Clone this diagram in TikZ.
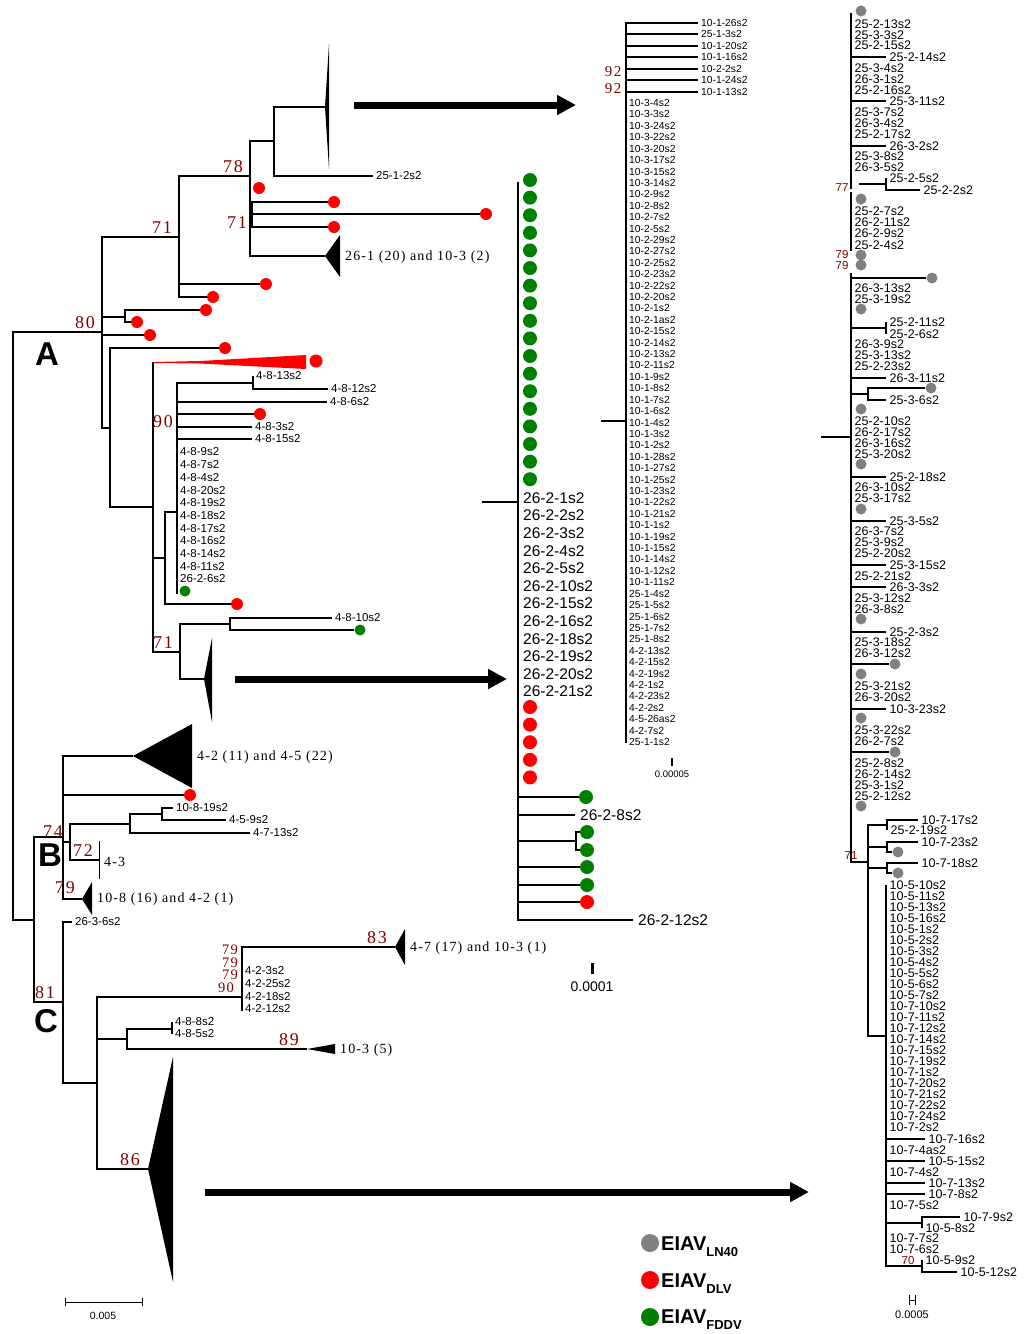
\documentclass[tikz,border=0pt]{standalone}
\usepackage{fontspec}
\setmainfont{Liberation Sans}
\newfontfamily\bsfont[LetterSpace=10]{Liberation Serif}
\newfontfamily\cladefont[LetterSpace=8]{Liberation Serif}
\usetikzlibrary{arrows.meta}

\definecolor{dotred}{RGB}{255,0,0}
\definecolor{dotgreen}{RGB}{0,128,0}
\definecolor{dotgray}{RGB}{128,128,128}
\definecolor{bsred}{RGB}{128,0,0}

\begin{document}
\begin{tikzpicture}[x=1pt, y=-1pt,
    br/.style={line width=1.2pt},
    lbl/.style={anchor=west, inner xsep=3pt, inner ysep=0pt, font=\fontsize{11.5}{11.5}\selectfont},
    slbl/.style={anchor=west, inner xsep=3pt, inner ysep=0pt, font=\fontsize{10.3}{10.3}\selectfont},
    blbl/.style={anchor=west, inner xsep=5pt, inner ysep=0pt, font=\fontsize{15.5}{15.5}\selectfont},
    rlbl/.style={anchor=west, inner xsep=3.5pt, inner ysep=0pt, font=\fontsize{12.5}{12.5}\selectfont},
    clade/.style={anchor=west, inner xsep=5pt, inner ysep=0pt, font=\cladefont\fontsize{14}{14}\selectfont},
    bs/.style={inner sep=0pt, text=bsred, font=\bsfont\fontsize{18}{18}\selectfont},
    sbs/.style={bs, font=\bsfont\fontsize{14.5}{14.5}\selectfont},
    rbs/.style={inner sep=0pt, text=bsred, font=\fontsize{11.5}{11.5}\selectfont},
    grp/.style={inner sep=0pt, font=\bfseries\fontsize{33}{33}\selectfont},
    rdot/.style={circle, fill=dotred, inner sep=0pt, minimum size=12pt},
    gdot/.style={circle, fill=dotgreen, inner sep=0pt, minimum size=12pt},
    gydot/.style={circle, fill=dotgray, inner sep=0pt, minimum size=11pt},
    bigarr/.style={line width=7pt, -{Triangle[length=19pt,width=19pt]}},
    leg/.style={anchor=base west, inner sep=0pt, font=\bfseries\fontsize{20}{20}\selectfont}
]
\useasboundingbox (0,0) rectangle (1024,1334);

% ---- left tree, cluster A
\coordinate (root) at (13,626);
\coordinate (nA) at (102,332);
\coordinate (nBC) at (34,920);
\draw[br] (root) |- (nA);
\draw[br] (root) |- (nBC);

\coordinate (n71) at (179,237);
\coordinate (nS) at (125,317);
\coordinate (nX) at (110,428);
\node[rdot] (dA) at (150,335) {};
\draw[br] (nA) |- (n71);
\draw[br] (nA) |- (nS);
\draw[br] (nA) |- (dA.west);
\draw[br] (nA) |- (nX);

\node[rdot] (dS1) at (206,310) {};
\node[rdot] (dS2) at (137,322) {};
\draw[br] (nS) |- (dS1.west);
\draw[br] (nS) |- (dS2.west);

\coordinate (n78) at (250,176);
\node[rdot] (d71a) at (266,284) {};
\node[rdot] (d71b) at (213,297) {};
\draw[br] (n71) |- (n78);
\draw[br] (n71) |- (d71a.west);
\draw[br] (n71) |- (d71b.west);

\coordinate (nT) at (274,141);
\coordinate (t26) at (325,256);
\node[rdot] (d78) at (259,188) {};
\draw[br] (n78) |- (nT);
\draw[br] (n78) |- (t26);
\fill (t26) -- (340,235) -- (340,277) -- cycle;
\node[clade] (c261) at (340,257) {26-1 (20) and 10-3 (2)};

\coordinate (n71b) at (252,214);
\node[rdot] (db1) at (334,202) {};
\node[rdot] (db2) at (486,214) {};
\node[rdot] (db3) at (334,227) {};
\draw[br] (n71b) |- (db1.west);
\draw[br] (n71b) |- (db2.west);
\draw[br] (n71b) |- (db3.west);

\coordinate (tT) at (325,107);
\node[lbl] (l2512) at (373,176) {25-1-2s2};
\draw[br] (nT) |- (tT);
\draw[br] (nT) |- (l2512.west);
\fill (tT) -- (329,44) -- (329,169) -- cycle;

\node[rdot] (dX) at (225,348) {};
\coordinate (nY) at (153,507);
\draw[br] (nX) |- (dX.west);
\draw[br] (nX) |- (nY);

\coordinate (rt) at (153,362);
\draw[br] (nY) -- (rt);
\fill[dotred] (rt) -- (200,361) -- (306,355) -- (306,369) -- (200,363.5) -- (153,363) -- cycle;
\node[rdot, minimum size=13pt] (dR) at (316,361) {};

\coordinate (nZ) at (165,558);
\coordinate (n71c) at (180,652);
\draw[br] (nY) |- (nZ);
\draw[br] (nY) |- (n71c);

\coordinate (n90) at (177,512);
\node[rdot] (dZ) at (237,604) {};
\draw[br] (nZ) |- (n90);
\draw[br] (nZ) |- (dZ.west);

\coordinate (n13) at (253,383);
\draw[br] (n90) |- (n13);
\node[lbl] (l4813) at (253,376) {4-8-13s2};
\node[lbl] (l4812) at (328,389) {4-8-12s2};
\draw[br] (n13) |- (l4813.west);
\draw[br] (n13) |- (l4812.west);
\node[lbl] (l486) at (327,402) {4-8-6s2};
\node[rdot] (d90) at (260,414) {};
\node[lbl] (l483) at (252,427) {4-8-3s2};
\node[lbl] (l4815) at (252,439) {4-8-15s2};
\draw[br] (n90) |- (l486.west);
\draw[br] (n90) |- (d90.west);
\draw[br] (n90) |- (l483.west);
\draw[br] (n90) |- (l4815.west);
\foreach \t [count=\i] in {4-8-9s2, 4-8-7s2, 4-8-4s2, 4-8-20s2, 4-8-19s2, 4-8-18s2,
    4-8-17s2, 4-8-16s2, 4-8-14s2, 4-8-11s2, 26-2-6s2}
  \node[lbl] (l90\i) at (177,{439.3+12.7*\i}) {\t};
\node[gdot, minimum size=11pt] (d90g) at (185,591) {};
\coordinate (n90e) at (177,594);
\draw[br] (n90) -- (n90e);

\coordinate (n10) at (230,624);
\coordinate (tA) at (204,679);
\draw[br] (n71c) |- (n10);
\draw[br] (n71c) |- (tA);
\fill (tA) -- (212,638) -- (212,722) -- cycle;
\node[lbl] (l4810) at (332,618) {4-8-10s2};
\node[gdot, minimum size=11pt] (d10) at (360,630) {};
\draw[br] (n10) |- (l4810.west);
\draw[br] (n10) |- (d10.west);

% ---- clusters B and C
\coordinate (nB) at (63,837);
\coordinate (nC) at (63,1002);
\draw[br] (nBC) |- (nB);
\draw[br] (nBC) |- (nC);

\coordinate (tB1) at (133,756);
\node[rdot] (dB) at (190,795) {};
\coordinate (nB2) at (70,842);
\coordinate (tB3) at (82,899);
\draw[br] (nB) |- (tB1);
\draw[br] (nB) |- (dB.west);
\draw[br] (nB) |- (nB2);
\draw[br] (nB) |- (tB3);
\fill (tB1) -- (192,724) -- (192,788) -- cycle;
\node[clade] (c42) at (192,757) {4-2 (11) and 4-5 (22)};
\fill (tB3) -- (92,882) -- (92,915) -- cycle;
\node[clade] (c108) at (92,899) {10-8 (16) and 4-2 (1)};

\coordinate (nB3) at (130,824);
\coordinate (c43) at (99,860);
\draw[br] (nB2) |- (nB3);
\draw[br] (nB2) |- (c43);
\draw[line width=0.6pt] (99,841) -- (99,879);
\node[clade] (l43) at (99,862) {4-3};

\coordinate (nB4) at (162,814);
\node[lbl] (l4713) at (250,833) {4-7-13s2};
\node[lbl] (l10819) at (173,808) {10-8-19s2};
\node[lbl] (l459) at (226,820) {4-5-9s2};
\draw[br] (nB3) |- (nB4);
\draw[br] (nB3) |- (l4713.west);
\draw[br] (nB4) |- (l10819.west);
\draw[br] (nB4) |- (l459.west);

\node[lbl] (l2636) at (72,922) {26-3-6s2};
\coordinate (nC2) at (97,1083);
\draw[br] (nC) |- (l2636.west);
\draw[br] (nC) |- (nC2);

\coordinate (nC3) at (242,997);
\coordinate (nC4) at (127,1039);
\coordinate (tC) at (148,1169);
\draw[br] (nC2) |- (nC3);
\draw[br] (nC2) |- (nC4);
\draw[br] (nC2) |- (tC);
\fill (tC) -- (173,1057) -- (173,1282) -- cycle;

\coordinate (tC3) at (395,947);
\coordinate (nC3e) at (242,1011);
\draw[br] (nC3) |- (tC3);
\draw[br] (nC3) -- (nC3e);
\fill (tC3) -- (405,929) -- (405,965) -- cycle;
\node[clade] (c47) at (405,948) {4-7 (17) and 10-3 (1)};
\foreach \y/\t [count=\i] in {971/4-2-3s2, 984/4-2-25s2, 997/4-2-18s2, 1009/4-2-12s2}
  \node[lbl] (l42\i) at (242,\y) {\t};

\coordinate (nC5) at (172,1029);
\coordinate (tC4) at (307,1049);
\draw[br] (nC4) |- (nC5);
\draw[br] (nC4) |- (tC4);
\fill (tC4) -- (335,1044) -- (335,1054) -- cycle;
\node[clade] (c103) at (335,1050) {10-3 (5)};
\node[lbl] (l488) at (172,1022) {4-8-8s2};
\node[lbl] (l485) at (172,1034) {4-8-5s2};
\draw[br] (nC5) |- (l488.west);
\draw[br] (nC5) |- (l485.west);

% bootstrap values and cluster letters
\node[bs] (b80) at (85,323) {80};
\node[bs] (b71a) at (162,228) {71};
\node[bs] (b78) at (233,167) {78};
\node[bs] (b71b) at (237,223) {71};
\node[bs] (b90) at (163,422) {90};
\node[bs] (b71c) at (163,643) {71};
\node[bs] (b74) at (53,832) {74};
\node[bs] (b72) at (83,851) {72};
\node[bs] (b79a) at (65,888) {79};
\node[bs] (b81) at (45,993) {81};
\node[sbs] (b79b) at (230,950) {79};
\node[sbs] (b79c) at (230,962.5) {79};
\node[sbs] (b79d) at (230,975) {79};
\node[sbs] (b90b) at (226,987.5) {90};
\node[bs] (b83) at (377,938) {83};
\node[bs] (b89) at (289,1040) {89};
\node[bs] (b86) at (130,1160) {86};
\node[grp] (gA) at (47,354) {A};
\node[grp] (gB) at (50,855) {B};
\node[grp] (gC) at (46,1021) {C};

% scale bar
\coordinate (sa) at (65,1302);
\coordinate (sb) at (142,1302);
\draw[line width=1pt] (sa) -- (sb);
\draw[line width=1pt] ([yshift=-4pt]sa) -- ([yshift=4pt]sa);
\draw[line width=1pt] ([yshift=-4pt]sb) -- ([yshift=4pt]sb);
\node[font=\fontsize{10.5}{10.5}\selectfont] (sl) at (103,1316) {0.005};

% ---- arrows to the expanded clades
\coordinate (a1s) at (354,105);
\coordinate (a1e) at (576,105);
\coordinate (a2s) at (235,679);
\coordinate (a2e) at (507,679);
\coordinate (a3s) at (205,1192);
\coordinate (a3e) at (809,1192);
\draw[bigarr] (a1s) -- (a1e);
\draw[bigarr] (a2s) -- (a2e);
\draw[bigarr] (a3s) -- (a3e);

% ---- 26-2 clade
\coordinate (m0) at (482,502);
\coordinate (m1) at (518,502);
\coordinate (m1t) at (518,182);
\draw[br] (m0) -- (m1);
\draw[br] (m1) -- (m1t);
\foreach \i in {0,...,17}
  \node[gdot, minimum size=14pt] (mg\i) at (530,{180+17.6*\i}) {};
\foreach \t [count=\i from 0] in {26-2-1s2, 26-2-2s2, 26-2-3s2, 26-2-4s2, 26-2-5s2, 26-2-10s2,
    26-2-15s2, 26-2-16s2, 26-2-18s2, 26-2-19s2, 26-2-20s2, 26-2-21s2}
  \node[blbl] (ml\i) at (518,{498+17.6*\i}) {\t};
\foreach \i in {0,...,4}
  \node[rdot, minimum size=14pt] (mr\i) at (530,{707+17.6*\i}) {};
\node[gdot, minimum size=14pt] (mb1) at (586,797) {};
\node[blbl] (mb2) at (575,815) {26-2-8s2};
\coordinate (m2) at (576,841);
\node[gdot, minimum size=14pt] (mb3) at (587,832) {};
\node[gdot, minimum size=14pt] (mb4) at (587,850) {};
\node[gdot, minimum size=14pt] (mb5) at (587,867) {};
\node[gdot, minimum size=14pt] (mb6) at (587,885) {};
\node[rdot, minimum size=14pt] (mb7) at (587,902) {};
\node[blbl] (mb8) at (633,920) {26-2-12s2};
\draw[br] (m1) |- (mb1.west);
\draw[br] (m1) |- (mb2.west);
\draw[br] (m1) |- (m2);
\draw[br] (m2) |- (mb3.west);
\draw[br] (m2) |- (mb4.west);
\draw[br] (m1) |- (mb5.west);
\draw[br] (m1) |- (mb6.west);
\draw[br] (m1) |- (mb7.west);
\draw[br] (m1) |- (mb8.west);
\coordinate (ms) at (592,963);
\draw[line width=3pt] (ms) -- ++(0,11);
\node[font=\fontsize{14}{14}\selectfont] (msl) at (592,987) {0.0001};

% ---- 10-1 clade
\coordinate (k0) at (601,421);
\coordinate (k1) at (626,421);
\coordinate (k1e) at (626,743);
\draw[br] (k0) -- (k1);
\draw[br] (k1) -- (k1e);
\foreach \y/\t [count=\i] in {23/10-1-26s2, 34/25-1-3s2, 46/10-1-20s2, 57/10-1-16s2,
    69/10-2-2s2, 80/10-1-24s2, 92/10-1-13s2} {
  \node[slbl] (kt\i) at (698,\y) {\t};
  \draw[br] (k1) |- (kt\i.west);
}
\foreach \t [count=\i from 0] in {10-3-4s2, 10-3-3s2, 10-3-24s2, 10-3-22s2, 10-3-20s2, 10-3-17s2,
    10-3-15s2, 10-3-14s2, 10-2-9s2, 10-2-8s2, 10-2-7s2, 10-2-5s2, 10-2-29s2, 10-2-27s2,
    10-2-25s2, 10-2-23s2, 10-2-22s2, 10-2-20s2, 10-2-1s2, 10-2-1as2, 10-2-15s2, 10-2-14s2,
    10-2-13s2, 10-2-11s2, 10-1-9s2, 10-1-8s2, 10-1-7s2, 10-1-6s2, 10-1-4s2, 10-1-3s2,
    10-1-2s2, 10-1-28s2, 10-1-27s2, 10-1-25s2, 10-1-23s2, 10-1-22s2, 10-1-21s2, 10-1-1s2,
    10-1-19s2, 10-1-15s2, 10-1-14s2, 10-1-12s2, 10-1-11s2, 25-1-4s2, 25-1-5s2, 25-1-6s2,
    25-1-7s2, 25-1-8s2, 4-2-13s2, 4-2-15s2, 4-2-19s2, 4-2-1s2, 4-2-23s2, 4-2-2s2,
    4-5-26as2, 4-2-7s2, 25-1-1s2}
  \node[slbl] (kl\i) at (626,{103+11.41*\i}) {\t};
\node[bs, font=\bsfont\fontsize{15}{15}\selectfont] (b92a) at (613,72) {92};
\node[bs, font=\bsfont\fontsize{15}{15}\selectfont] (b92b) at (613,89) {92};
\coordinate (ks) at (672,758);
\draw[line width=2pt] (ks) -- ++(0,8);
\node[font=\fontsize{9.5}{9.5}\selectfont] (ksl) at (672,774) {0.00005};

% ---- 25/26 and 10-5/10-7 clade
\coordinate (g0) at (821,437);
\coordinate (g1) at (851,437);
\coordinate (g1a) at (851,13);
\coordinate (g1b) at (851,189);
\coordinate (g1c) at (851,192);
\coordinate (g1d) at (851,251);
\coordinate (g1e) at (851,273);
\coordinate (n71r) at (868,862);
\draw[br] (g0) -- (g1);
\draw[br] (g1a) -- (g1b);
\draw[br] (g1c) -- (g1d);
\draw[br] (g1e) -- (g1);
\draw[br] (g1) |- (n71r);

\foreach \y/\t [count=\i] in {24/25-2-13s2, 35/25-3-3s2, 45/25-2-15s2, 68/25-3-4s2, 79/26-3-1s2,
    90/25-2-16s2, 112/25-3-7s2, 123/26-3-4s2, 134/25-2-17s2, 156/25-3-8s2, 167/26-3-5s2,
    211/25-2-7s2, 222/26-2-11s2, 233/26-2-9s2, 245/25-2-4s2, 288/26-3-13s2, 299/25-3-19s2,
    344/26-3-9s2, 355/25-3-13s2, 366/25-2-23s2, 421/25-2-10s2, 432/26-2-17s2, 443/26-3-16s2,
    454/25-3-20s2, 487/26-3-10s2, 498/25-3-17s2, 531/26-3-7s2, 542/25-3-9s2, 553/25-2-20s2,
    576/25-2-21s2, 598/25-3-12s2, 609/26-3-8s2, 642/25-3-18s2, 653/26-3-12s2, 686/25-3-21s2,
    697/26-3-20s2, 730/25-3-22s2, 741/26-2-7s2, 763/25-2-8s2, 774/26-2-14s2, 785/25-3-1s2,
    796/25-2-12s2}
  \node[rlbl] (rl\i) at (851,\y) {\t};
\foreach \y/\t [count=\i] in {57/25-2-14s2, 101/25-3-11s2, 146/26-3-2s2, 378/26-3-11s2,
    477/25-2-18s2, 521/25-3-5s2, 565/25-3-15s2, 587/26-3-3s2, 632/25-2-3s2, 709/10-3-23s2} {
  \node[rlbl] (rb\i) at (886,\y) {\t};
  \draw[br] (g1 |- rb\i.west) -- (rb\i.west);
}
\foreach \y [count=\i] in {11, 199, 255, 265, 309, 409, 464, 509, 619, 674, 718, 806}
  \node[gydot] (gd\i) at (861,\y) {};
\foreach \x/\y [count=\i] in {932/278, 895/664, 895/752} {
  \node[gydot] (ge\i) at (\x,\y) {};
  \draw[br] (g1 |- ge\i.west) -- (ge\i.west);
}

\coordinate (r77s) at (859,184);
\coordinate (r77) at (886,184);
\node[rlbl] (l2525) at (886,178) {25-2-5s2};
\node[rlbl] (l2522) at (920,190) {25-2-2s2};
\draw[br] (r77s) -- (r77);
\draw[br] (r77) |- (l2525.west);
\draw[br] (r77) |- (l2522.west);

\coordinate (r211) at (886,328);
\node[rlbl] (l25211) at (886,322) {25-2-11s2};
\node[rlbl] (l2526) at (886,334) {25-2-6s2};
\draw[br] (g1 |- r211) -- (r211);
\draw[br] (r211) |- (l25211.west);
\draw[br] (r211) |- (l2526.west);

\coordinate (r36) at (868,394);
\node[gydot] (gr36) at (931,388) {};
\node[rlbl] (l2536) at (886,400) {25-3-6s2};
\draw[br] (g1 |- r36) -- (r36);
\draw[br] (r36) |- (gr36.west);
\draw[br] (r36) |- (l2536.west);

\coordinate (q1) at (887,825);
\coordinate (q2) at (887,847);
\coordinate (q3) at (887,868);
\coordinate (q4) at (886,1036);
\draw[br] (n71r) |- (q1);
\draw[br] (n71r) |- (q2);
\draw[br] (n71r) |- (q3);
\draw[br] (n71r) |- (q4);
\node[rlbl] (l10717) at (918,820) {10-7-17s2};
\node[rlbl] (l25219) at (887,830) {25-2-19s2};
\draw[br] (q1) |- (l10717.west);
\draw[br] (q1) |- (l25219.west);
\node[rlbl] (l10723) at (918,842) {10-7-23s2};
\node[gydot] (gq2) at (898,852) {};
\draw[br] (q2) |- (l10723.west);
\draw[br] (q2) |- (gq2.west);
\node[rlbl] (l10718) at (918,863) {10-7-18s2};
\node[gydot] (gq3) at (898,873) {};
\draw[br] (q3) |- (l10718.west);
\draw[br] (q3) |- (gq3.west);

\coordinate (q4t) at (886,885);
\draw[br] (q4) -- (q4t);
\foreach \t [count=\i from 0] in {10-5-10s2, 10-5-11s2, 10-5-13s2, 10-5-16s2, 10-5-1s2, 10-5-2s2,
    10-5-3s2, 10-5-4s2, 10-5-5s2, 10-5-6s2, 10-5-7s2, 10-7-10s2, 10-7-11s2, 10-7-12s2,
    10-7-14s2, 10-7-15s2, 10-7-19s2, 10-7-1s2, 10-7-20s2, 10-7-21s2, 10-7-22s2, 10-7-24s2,
    10-7-2s2}
  \node[rlbl] (ql\i) at (886,{885+11*\i}) {\t};
\foreach \y/\t [count=\i] in {1150/10-7-4as2, 1172/10-7-4s2, 1205/10-7-5s2, 1238/10-7-7s2,
    1249/10-7-6s2}
  \node[rlbl] (qm\i) at (886,\y) {\t};
\foreach \y/\t [count=\i] in {1139/10-7-16s2, 1161/10-5-15s2, 1183/10-7-13s2, 1194/10-7-8s2} {
  \node[rlbl] (qb\i) at (925,\y) {\t};
  \draw[br] (q4 |- qb\i.west) -- (qb\i.west);
}
\coordinate (q5) at (922,1223);
\node[rlbl] (l1079) at (960,1217) {10-7-9s2};
\node[rlbl] (l1058) at (922,1228) {10-5-8s2};
\draw[br] (q4 |- q5) -- (q5);
\draw[br] (q5) |- (l1079.west);
\draw[br] (q5) |- (l1058.west);
\coordinate (q6) at (922,1266);
\node[rlbl] (l1059) at (922,1260) {10-5-9s2};
\node[rlbl] (l10512) at (957,1272) {10-5-12s2};
\draw[br] (q4) |- (q6);
\draw[br] (q6) |- (l1059.west);
\draw[br] (q6) |- (l10512.west);

\node[rbs] (b77) at (842,188) {77};
\node[rbs] (b79e) at (842,255) {79};
\node[rbs] (b79f) at (842,266) {79};
\node[rbs] (b71r) at (851,856) {71};
\node[rbs] (b70) at (908,1261) {70};

\coordinate (hs) at (909,1300);
\coordinate (he) at (915,1300);
\draw[line width=1pt] (hs) -- (he);
\draw[line width=1pt] ([yshift=-5pt]hs) -- ([yshift=5pt]hs);
\draw[line width=1pt] ([yshift=-5pt]he) -- ([yshift=5pt]he);
\node[font=\fontsize{11}{11}\selectfont] (hl) at (912,1315) {0.0005};

% ---- legend
\node[gydot, minimum size=18pt] (k1dot) at (650,1243) {};
\node[rdot, minimum size=18pt] (k2dot) at (650,1280) {};
\node[gdot, minimum size=18pt] (k3dot) at (650,1317) {};
\node[leg] (k1txt) at (661,1250) {EIAV\raisebox{-6pt}{\fontsize{13}{13}\selectfont LN40}};
\node[leg] (k2txt) at (661,1287) {EIAV\raisebox{-6pt}{\fontsize{13}{13}\selectfont DLV}};
\node[leg] (k3txt) at (661,1323) {EIAV\raisebox{-6pt}{\fontsize{13}{13}\selectfont FDDV}};
\end{tikzpicture}
\end{document}
